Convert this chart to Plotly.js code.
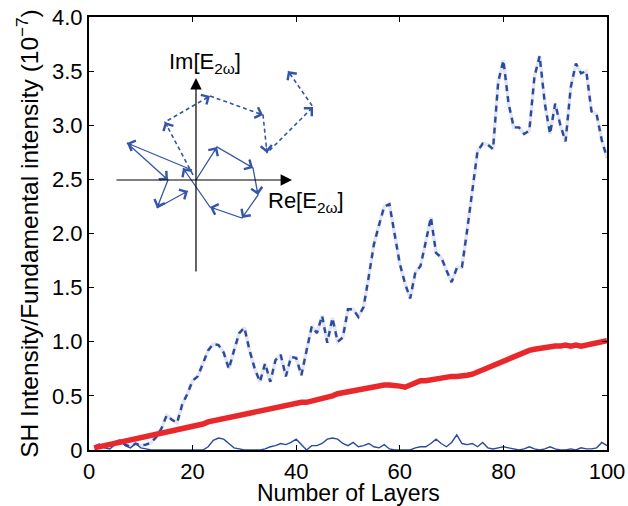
<!DOCTYPE html>
<html>
<head>
<meta charset="utf-8">
<script src="https://cdn.plot.ly/plotly-3.0.1.min.js"></script>
<style>html,body{margin:0;padding:0;background:#fff;}#chart{width:628px;height:506px;}</style>
</head>
<body>
<div id="chart"></div>
<script>
// ---------- data ----------
var layers = [1,2,3,4,5,6,7,8,9,10,11,12,13,14,15,16,17,18,19,20,
  21,22,23,24,25,26,27,28,29,30,31,32,33,34,35,36,37,38,39,40,
  41,42,43,44,45,46,47,48,49,50,51,52,53,54,55,56,57,58,59,60,
  61,62,63,64,65,66,67,68,69,70,71,72,73,74,75,76,77,78,79,80,
  81,82,83,84,85,86,87,88,89,90,91,92,93,94,95,96,97,98,99,100];

var dashedSeries = [0.03,0.05,0.03,0.04,0.07,0.09,0.05,0.03,0.06,0.04,
  0.05,0.07,0.12,0.20,0.32,0.28,0.25,0.42,0.52,0.64,
  0.68,0.80,0.92,0.98,0.97,0.90,0.75,0.92,1.08,1.13,
  0.92,0.75,0.63,0.80,0.63,0.83,0.88,0.68,0.86,0.85,
  0.69,0.92,1.14,1.08,1.24,0.99,1.22,1.00,1.04,1.30,
  1.30,1.23,1.32,1.60,1.90,2.08,2.25,2.27,1.98,1.72,
  1.54,1.40,1.64,1.70,1.92,2.15,1.82,1.78,1.66,1.55,
  1.68,1.69,2.03,2.40,2.76,2.83,2.82,2.78,3.40,3.60,
  3.20,2.98,2.98,2.92,2.95,3.45,3.64,3.20,2.92,3.20,
  3.00,2.85,3.35,3.57,3.48,3.50,3.13,3.10,2.86,2.70];

var solidSeries = [0.03,0.05,0.02,0.01,0.05,0.09,0.04,0.02,0.06,0.02,
  0.01,0.00,0.00,0.00,0.00,0.00,0.00,0.00,0.00,0.00,
  0.00,0.00,0.03,0.09,0.11,0.10,0.06,0.02,0.01,0.00,
  0.00,0.00,0.00,0.01,0.03,0.04,0.06,0.05,0.07,0.10,
  0.05,0.00,0.04,0.04,0.06,0.10,0.11,0.10,0.06,0.04,
  0.07,0.03,0.04,0.06,0.03,0.02,0.05,0.01,0.00,0.00,
  0.00,0.00,0.02,0.03,0.03,0.06,0.10,0.06,0.03,0.07,
  0.14,0.06,0.05,0.06,0.03,0.07,0.02,0.01,0.02,0.03,
  0.02,0.01,0.00,0.01,0.03,0.01,0.00,0.01,0.03,0.01,
  0.00,0.00,0.01,0.00,0.02,0.01,0.01,0.02,0.07,0.04];

var averageSeries = [0.02,0.03,0.04,0.06,0.07,0.08,0.09,0.10,0.11,0.12,
  0.13,0.14,0.15,0.16,0.17,0.17,0.18,0.19,0.20,0.21,
  0.22,0.24,0.26,0.27,0.29,0.30,0.31,0.32,0.33,0.34,
  0.35,0.36,0.37,0.37,0.38,0.39,0.40,0.41,0.42,0.43,
  0.44,0.44,0.45,0.47,0.48,0.49,0.50,0.52,0.53,0.54,
  0.55,0.56,0.57,0.58,0.59,0.595,0.60,0.60,0.60,0.59,
  0.58,0.60,0.63,0.64,0.64,0.65,0.65,0.66,0.67,0.68,
  0.68,0.68,0.69,0.70,0.72,0.74,0.77,0.79,0.81,0.83,
  0.85,0.87,0.89,0.91,0.92,0.93,0.94,0.94,0.95,0.96,
  0.96,0.97,0.96,0.97,0.96,0.97,0.98,0.99,1.00,1.01];

var xTickVals = [0,20,40,60,80,100];
var xTickText = ['0','20','40','60','80','100'];
var yTickVals = [0,0.5,1,1.5,2,2.5,3,3.5,4];
var yTickText = ['0','0.5','1.0','1.5','2.0','2.5','3.0','3.5','4.0'];

// inset phasor diagram (vertices of arrow chains, inset units)
var solidChainAX = [0,21,57,62,46,14,-13];
var solidChainAY = [0,33,12,-15,-38,-27,12];
var solidChainBX = [-4,-69,-28,-39,-8];
var solidChainBY = [10,37,0,-28,-11];
var dashedChainX = [-3,-31,14,67,71,117,92];
var dashedChainY = [5,58,84,65,27,73,109];
var reAxisX = [-81,96];
var imAxisY = [-93,102];

// ---------- drawing ----------
var blueDark = '#2a4a9c';
var arrowBlue = '#3556a8';

var traces = [
  {x: layers, y: dashedSeries, type: 'scatter', mode: 'lines',
   line: {color: '#e3e5f3', width: 3.5}, hoverinfo: 'skip', showlegend: false},
  {x: layers, y: dashedSeries, type: 'scatter', mode: 'lines',
   line: {color: blueDark, width: 2.4, dash: '6px,5px'}, showlegend: false},
  {x: layers, y: solidSeries, type: 'scatter', mode: 'lines',
   line: {color: blueDark, width: 1.4}, showlegend: false},
  {x: layers, y: averageSeries, type: 'scatter', mode: 'lines',
   line: {color: '#e8282b', width: 5.5}, showlegend: false},
  {x: solidChainAX, y: solidChainAY, xaxis: 'x2', yaxis: 'y2', type: 'scatter', mode: 'lines',
   line: {color: arrowBlue, width: 1.3}, showlegend: false},
  {x: solidChainBX, y: solidChainBY, xaxis: 'x2', yaxis: 'y2', type: 'scatter', mode: 'lines',
   line: {color: arrowBlue, width: 1.3}, showlegend: false},
  {x: dashedChainX, y: dashedChainY, xaxis: 'x2', yaxis: 'y2', type: 'scatter', mode: 'lines',
   line: {color: arrowBlue, width: 1.6, dash: '4px,3px'}, showlegend: false}
];

var fontFam = 'Liberation Sans, Arial, Helvetica, sans-serif';
var annotations = [];
function addHeads(xs, ys) {
  for (var i = 1; i < xs.length; i++) {
    var dx = xs[i] - xs[i-1], dy = ys[i] - ys[i-1];
    var len = Math.sqrt(dx*dx + dy*dy);
    var L = 7;
    annotations.push({
      xref: 'x2', yref: 'y2', x: xs[i], y: ys[i],
      ax: -dx/len*L, ay: dy/len*L, text: '', showarrow: true,
      arrowhead: 4, arrowsize: 1.8, arrowwidth: 1.2, arrowcolor: arrowBlue
    });
  }
}
addHeads(solidChainAX, solidChainAY);
addHeads(solidChainBX, solidChainBY);
addHeads(dashedChainX, dashedChainY);

// inset axes with filled heads
annotations.push({xref: 'x2', yref: 'y2', axref: 'x2', ayref: 'y2',
  x: reAxisX[1], y: 0, ax: reAxisX[0], ay: 0, text: '', showarrow: true,
  arrowhead: 2, arrowsize: 1.9, arrowwidth: 1.2, arrowcolor: '#000'});
annotations.push({xref: 'x2', yref: 'y2', axref: 'x2', ayref: 'y2',
  x: 0, y: imAxisY[1], ax: 0, ay: imAxisY[0], text: '', showarrow: true,
  arrowhead: 2, arrowsize: 1.9, arrowwidth: 1.2, arrowcolor: '#000'});
annotations.push({xref: 'x2', yref: 'y2', x: 9, y: 117, text: 'Im[E<sub>2ω</sub>]',
  showarrow: false, font: {family: fontFam, size: 22, color: '#000'}});
annotations.push({xref: 'x2', yref: 'y2', x: 110, y: -22, text: 'Re[E<sub>2ω</sub>]',
  showarrow: false, font: {family: fontFam, size: 22, color: '#000'}});
// x axis title (placed as annotation to sit lower, as in the reference)
annotations.push({xref: 'paper', yref: 'paper', x: 0.5, y: -0.1305, yanchor: 'bottom',
  borderpad: 0, text: 'Number of Layers', showarrow: false,
  font: {family: fontFam, size: 23, color: '#000'}});

var layout = {
  width: 628, height: 506,
  margin: {l: 89, r: 21, t: 17, b: 56, pad: 0},
  paper_bgcolor: '#fff', plot_bgcolor: 'rgba(0,0,0,0)',
  font: {family: fontFam, size: 22, color: '#000'},
  showlegend: false,
  xaxis: {
    range: [0, 100], tickvals: xTickVals, ticktext: xTickText,
    ticks: 'inside', ticklen: 5, tickwidth: 1, tickcolor: '#000',
    showline: true, linewidth: 2, linecolor: '#000', mirror: 'ticks',
    showgrid: false, zeroline: false, fixedrange: true,
    ticklabelstandoff: 1,
    tickfont: {family: fontFam, size: 22, color: '#000'}
  },
  yaxis: {
    range: [0, 4], tickvals: yTickVals, ticktext: yTickText,
    ticks: 'inside', ticklen: 5, tickwidth: 1, tickcolor: '#000',
    showline: true, linewidth: 2, linecolor: '#000', mirror: 'ticks',
    showgrid: false, zeroline: false, fixedrange: true,
    tickfont: {family: fontFam, size: 22, color: '#000'},
    title: {text: 'SH Intensity/Fundamental intensity (10<sup>−7</sup>)', font: {family: fontFam, size: 24.5, color: '#000'}, standoff: 6}
  },
  xaxis2: {domain: [0.0405, 0.5039], range: [-86, 154], anchor: 'y2', visible: false, fixedrange: true},
  yaxis2: {domain: [0.3926, 0.9007], range: [-100, 120], anchor: 'x2', visible: false, fixedrange: true},
  annotations: annotations
};

Plotly.newPlot('chart', traces, layout, {staticPlot: true, displayModeBar: false});
</script>
</body>
</html>
